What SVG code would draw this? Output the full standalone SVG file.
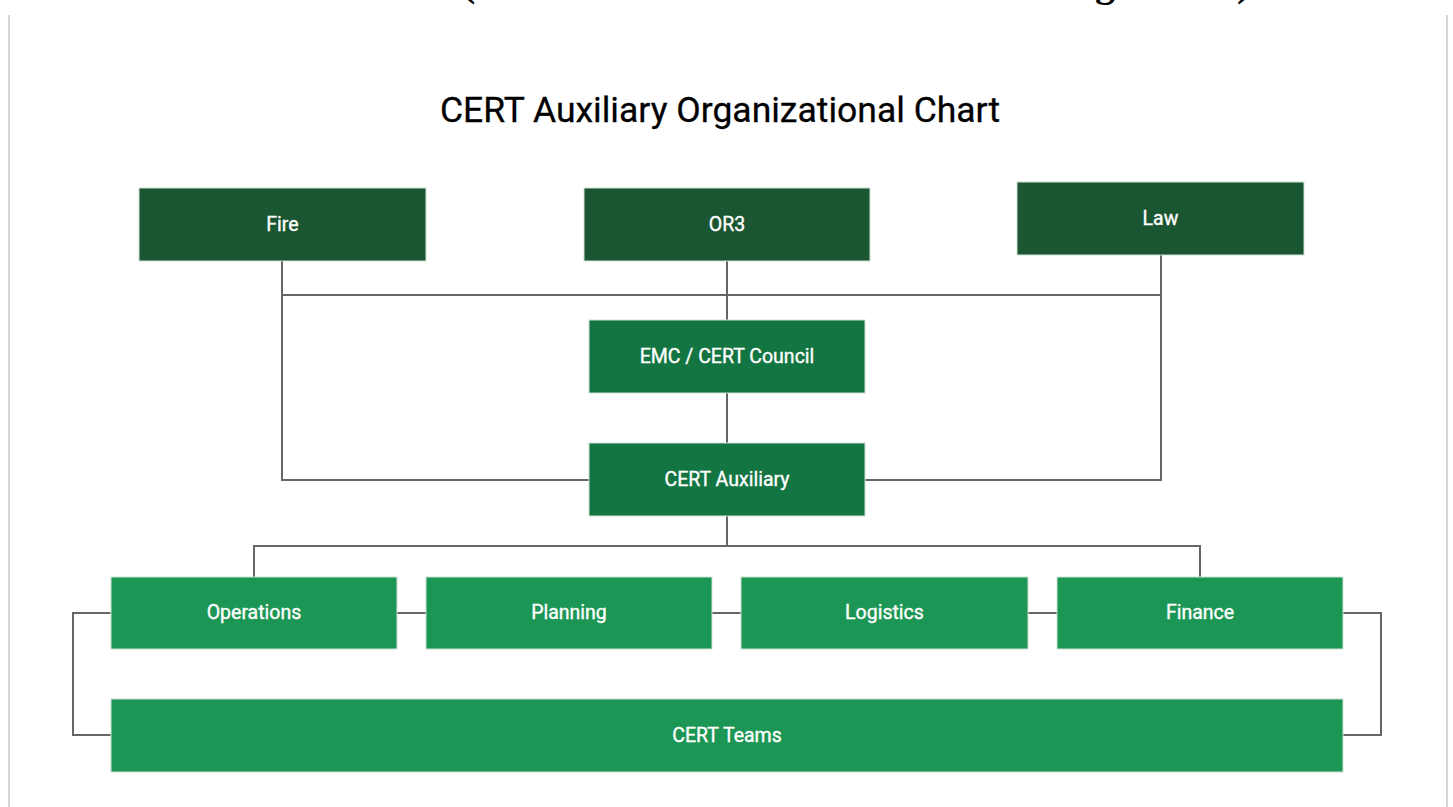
<svg xmlns="http://www.w3.org/2000/svg" width="1453" height="807" viewBox="0 0 1453 807">
<style>
.frag{font-family:"Liberation Serif",serif;font-weight:bold;font-size:40px;fill:#000}
.title{font-family:Roboto,"Liberation Sans",sans-serif;font-size:35.5px;fill:#000;stroke:#000;stroke-width:0.3;text-anchor:middle}
.lbl{font-family:Roboto,"Liberation Sans",sans-serif;font-size:19.5px;fill:#fff;stroke:#fff;stroke-width:0.35;text-anchor:middle;dominant-baseline:central}
.dark{fill:#1b5632;stroke:#cfe0d4;stroke-width:1}
.mid{fill:#137542;stroke:#cfe0d4;stroke-width:1}
.light{fill:#1c9654;stroke:#cfe0d4;stroke-width:1}
.conn{fill:none;stroke:#666;stroke-width:2}
.border{stroke:#d6d6d6;stroke-width:2}
</style>
<rect width="1453" height="807" fill="#fff"/>
<line class="border" x1="9" y1="15" x2="9" y2="807"/>
<line class="border" x1="1447" y1="15" x2="1447" y2="807"/>
<text class="frag" x="462" y="-4">(</text>
<text class="frag" x="1095" y="-4">g</text>
<text class="frag" x="1237" y="-4">)</text>
<text class="title" x="720" y="122">CERT Auxiliary Organizational Chart</text>
<g id="connectors">
<path class="conn" d="M282 261V295H1161"/>
<path class="conn" d="M727 261V320"/>
<path class="conn" d="M1161 255V480H865"/>
<path class="conn" d="M282 295V480H589"/>
<path class="conn" d="M727 393V443"/>
<path class="conn" d="M727 516V546"/>
<path class="conn" d="M254 577V546H1200V577"/>
<path class="conn" d="M397 613H426"/>
<path class="conn" d="M712 613H741"/>
<path class="conn" d="M1028 613H1057"/>
<path class="conn" d="M111 613H73V735H111"/>
<path class="conn" d="M1343 613H1381V735H1343"/>
</g>
<g id="fire"><rect class="dark" x="139" y="188" width="287" height="73"/><text class="lbl" x="282.5" y="224">Fire</text></g>
<g id="or3"><rect class="dark" x="584" y="188" width="286" height="73"/><text class="lbl" x="727" y="224">OR3</text></g>
<g id="law"><rect class="dark" x="1017" y="182" width="287" height="73"/><text class="lbl" x="1160.5" y="218">Law</text></g>
<g id="emc"><rect class="mid" x="589" y="320" width="276" height="73"/><text class="lbl" x="727" y="356">EMC / CERT Council</text></g>
<g id="aux"><rect class="mid" x="589" y="443" width="276" height="73"/><text class="lbl" x="727" y="479">CERT Auxiliary</text></g>
<g id="operations"><rect class="light" x="111" y="577" width="286" height="72"/><text class="lbl" x="254" y="612">Operations</text></g>
<g id="planning"><rect class="light" x="426" y="577" width="286" height="72"/><text class="lbl" x="569" y="612">Planning</text></g>
<g id="logistics"><rect class="light" x="741" y="577" width="287" height="72"/><text class="lbl" x="884.5" y="612">Logistics</text></g>
<g id="finance"><rect class="light" x="1057" y="577" width="286" height="72"/><text class="lbl" x="1200" y="612">Finance</text></g>
<g id="teams"><rect class="light" x="111" y="699" width="1232" height="73"/><text class="lbl" x="727" y="735">CERT Teams</text></g>
</svg>
